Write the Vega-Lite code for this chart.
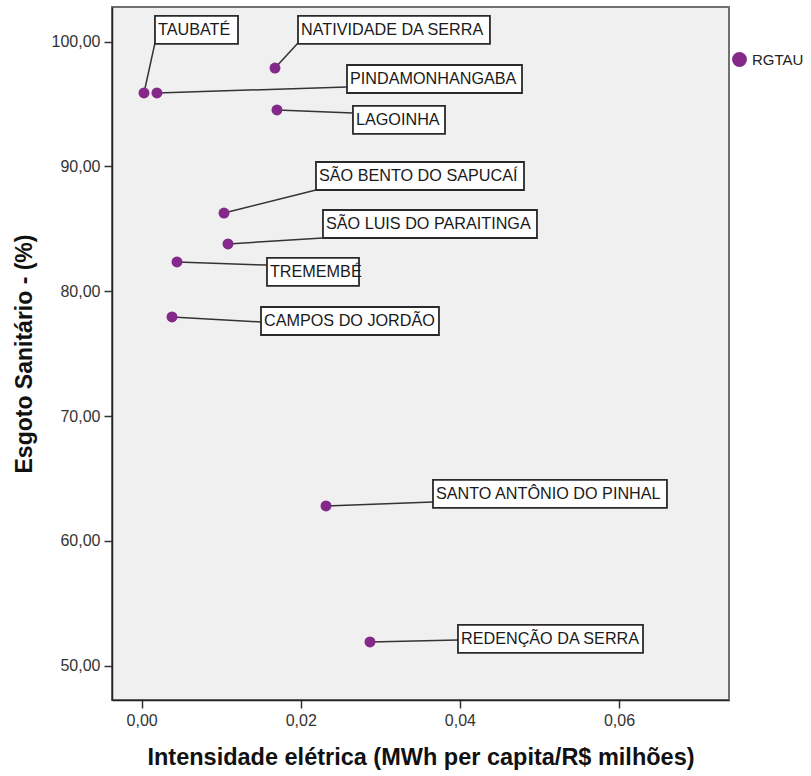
{
  "$schema": "https://vega.github.io/schema/vega-lite/v6.json",
  "autosize": "none",
  "width": 617,
  "height": 693,
  "padding": {"left": 112, "top": 7, "right": 82, "bottom": 76},
  "background": "white",
  "config": {
    "font": "Liberation Sans",
    "view": {"fill": "#F0F0F0", "stroke": "#707070", "strokeWidth": 2}
  },
  "data": {
    "values": [
      {"municipio": "TAUBATÉ", "grupo": "RGTAU", "intensidade": 0.00029, "esgoto": 95.89, "bx1": 0.00167, "bx2": 0.01211, "cy": 100.94, "ey": 99.90},
      {"municipio": "PINDAMONHANGABA", "grupo": "RGTAU", "intensidade": 0.00192, "esgoto": 95.89, "bx1": 0.02581, "bx2": 0.04781, "cy": 97.01, "ey": 96.37},
      {"municipio": "NATIVIDADE DA SERRA", "grupo": "RGTAU", "intensidade": 0.01676, "esgoto": 97.89, "bx1": 0.01965, "bx2": 0.04378, "cy": 100.94, "ey": 99.90},
      {"municipio": "LAGOINHA", "grupo": "RGTAU", "intensidade": 0.01701, "esgoto": 94.53, "bx1": 0.02656, "bx2": 0.03813, "cy": 93.73, "ey": 94.29},
      {"municipio": "SÃO BENTO DO SAPUCAÍ", "grupo": "RGTAU", "intensidade": 0.01035, "esgoto": 86.27, "bx1": 0.02191, "bx2": 0.04806, "cy": 89.24, "ey": 88.11},
      {"municipio": "SÃO LUIS DO PARAITINGA", "grupo": "RGTAU", "intensidade": 0.01085, "esgoto": 83.79, "bx1": 0.02279, "bx2": 0.04969, "cy": 85.39, "ey": 84.27},
      {"municipio": "TREMEMBÉ", "grupo": "RGTAU", "intensidade": 0.00444, "esgoto": 82.35, "bx1": 0.01575, "bx2": 0.02732, "cy": 81.55, "ey": 82.10},
      {"municipio": "CAMPOS DO JORDÃO", "grupo": "RGTAU", "intensidade": 0.00381, "esgoto": 77.94, "bx1": 0.01500, "bx2": 0.03737, "cy": 77.62, "ey": 77.54},
      {"municipio": "SANTO ANTÔNIO DO PINHAL", "grupo": "RGTAU", "intensidade": 0.02317, "esgoto": 62.80, "bx1": 0.03662, "bx2": 0.06603, "cy": 63.76, "ey": 63.12},
      {"municipio": "REDENÇÃO DA SERRA", "grupo": "RGTAU", "intensidade": 0.02870, "esgoto": 51.90, "bx1": 0.03976, "bx2": 0.06302, "cy": 52.14, "ey": 52.06}
    ]
  },
  "layer": [
    {
      "mark": {"type": "rule", "stroke": "#333333", "strokeWidth": 1.5},
      "encoding": {
        "x": {"field": "intensidade", "type": "quantitative", "scale": {"domain": [-0.00373, 0.07383], "nice": false, "zero": false},
          "axis": {
            "title": "Intensidade elétrica (MWh per capita/R$ milhões)",
            "values": [0, 0.02, 0.04, 0.06],
            "labelExpr": "replace(format(datum.value, '.2f'), '.', ',')",
            "grid": false,
            "domainColor": "#222222", "domainWidth": 1.5,
            "tickColor": "#333333", "tickSize": 8, "tickWidth": 1.5,
            "labelFont": "Liberation Sans", "labelFontSize": 16, "labelColor": "#333333", "labelPadding": 4,
            "titleFont": "Liberation Sans", "titleFontSize": 23.5, "titleFontWeight": "bold", "titleColor": "#111111", "titlePadding": 17
          }},
        "y": {"field": "esgoto", "type": "quantitative", "scale": {"domain": [47.25, 102.78], "nice": false, "zero": false},
          "axis": {
            "title": "Esgoto Sanitário - (%)",
            "values": [50, 60, 70, 80, 90, 100],
            "labelExpr": "replace(format(datum.value, '.2f'), '.', ',')",
            "grid": false,
            "domainColor": "#222222", "domainWidth": 1.5,
            "tickColor": "#333333", "tickSize": 8, "tickWidth": 1.5,
            "labelFont": "Liberation Sans", "labelFontSize": 16, "labelColor": "#333333", "labelPadding": 4,
            "titleFont": "Liberation Sans", "titleFontSize": 23, "titleFontWeight": "bold", "titleColor": "#111111", "titlePadding": 15
          }},
        "x2": {"field": "bx1"},
        "y2": {"field": "ey"}
      }
    },
    {
      "mark": {"type": "rect", "fill": "white", "stroke": "#2a2a2a", "strokeWidth": 1.8, "yOffset": -14, "y2Offset": 14},
      "encoding": {
        "x": {"field": "bx1", "type": "quantitative"},
        "x2": {"field": "bx2"},
        "y": {"field": "cy", "type": "quantitative"},
        "y2": {"field": "cy"}
      }
    },
    {
      "mark": {"type": "text", "align": "left", "baseline": "middle", "dx": 3, "fontSize": 16.2, "font": "Liberation Sans", "color": "#1a1a1a"},
      "encoding": {
        "x": {"field": "bx1", "type": "quantitative"},
        "y": {"field": "cy", "type": "quantitative"},
        "text": {"field": "municipio"}
      }
    },
    {
      "mark": {"type": "circle", "size": 120, "opacity": 1},
      "encoding": {
        "x": {"field": "intensidade", "type": "quantitative"},
        "y": {"field": "esgoto", "type": "quantitative"},
        "color": {"field": "grupo", "type": "nominal", "scale": {"range": ["#84288A"]},
          "legend": {"title": null, "orient": "none", "legendX": 620, "legendY": 45, "padding": 0,
            "symbolType": "circle", "symbolSize": 220, "symbolStrokeWidth": 0, "symbolOpacity": 1,
            "labelFont": "Liberation Sans", "labelFontSize": 15, "labelColor": "#222222", "labelOffset": 5}}
      }
    }
  ]
}
